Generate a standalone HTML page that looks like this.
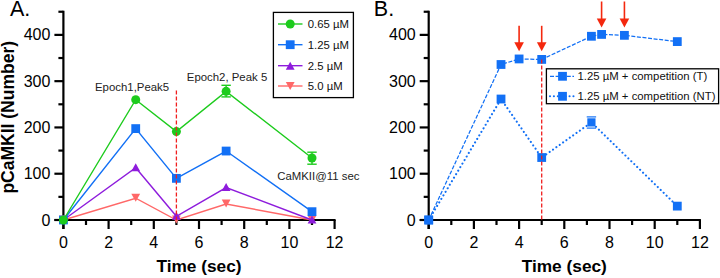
<!DOCTYPE html>
<html><head><meta charset="utf-8"><style>
html,body{margin:0;padding:0;background:#fff;}
body{width:720px;height:278px;overflow:hidden;}
svg{display:block;}
text{font-family:"Liberation Sans",sans-serif;}
.tk{font-size:16px;fill:#000;}
.tt{font-size:17.3px;font-weight:bold;fill:#000;}
.lg{font-size:11.35px;fill:#111;}
.an{font-size:11.4px;fill:#222;}
.pl{font-size:21.5px;fill:#000;}
</style></head><body>
<svg width="720" height="278" viewBox="0 0 720 278">
<rect width="720" height="278" fill="#fff"/>
<line x1="63.40" y1="10.74" x2="63.40" y2="229.00" stroke="#000" stroke-width="2.2"/>
<line x1="54.40" y1="220.00" x2="335.60" y2="220.00" stroke="#000" stroke-width="2.2"/>
<line x1="54.40" y1="220.00" x2="63.40" y2="220.00" stroke="#000" stroke-width="2.2"/>
<text x="50.40" y="225.60" text-anchor="end" class="tk">0</text>
<line x1="58.40" y1="196.86" x2="63.40" y2="196.86" stroke="#000" stroke-width="2.2"/>
<line x1="54.40" y1="173.72" x2="63.40" y2="173.72" stroke="#000" stroke-width="2.2"/>
<text x="50.40" y="179.32" text-anchor="end" class="tk">100</text>
<line x1="58.40" y1="150.58" x2="63.40" y2="150.58" stroke="#000" stroke-width="2.2"/>
<line x1="54.40" y1="127.44" x2="63.40" y2="127.44" stroke="#000" stroke-width="2.2"/>
<text x="50.40" y="133.04" text-anchor="end" class="tk">200</text>
<line x1="58.40" y1="104.30" x2="63.40" y2="104.30" stroke="#000" stroke-width="2.2"/>
<line x1="54.40" y1="81.16" x2="63.40" y2="81.16" stroke="#000" stroke-width="2.2"/>
<text x="50.40" y="86.76" text-anchor="end" class="tk">300</text>
<line x1="58.40" y1="58.02" x2="63.40" y2="58.02" stroke="#000" stroke-width="2.2"/>
<line x1="54.40" y1="34.88" x2="63.40" y2="34.88" stroke="#000" stroke-width="2.2"/>
<text x="50.40" y="40.48" text-anchor="end" class="tk">400</text>
<line x1="58.40" y1="11.74" x2="63.40" y2="11.74" stroke="#000" stroke-width="2.2"/>
<line x1="63.40" y1="220.00" x2="63.40" y2="229.00" stroke="#000" stroke-width="2.2"/>
<text x="63.40" y="247.70" text-anchor="middle" class="tk">0</text>
<line x1="86.00" y1="220.00" x2="86.00" y2="225.00" stroke="#000" stroke-width="2.2"/>
<line x1="108.60" y1="220.00" x2="108.60" y2="229.00" stroke="#000" stroke-width="2.2"/>
<text x="108.60" y="247.70" text-anchor="middle" class="tk">2</text>
<line x1="131.20" y1="220.00" x2="131.20" y2="225.00" stroke="#000" stroke-width="2.2"/>
<line x1="153.80" y1="220.00" x2="153.80" y2="229.00" stroke="#000" stroke-width="2.2"/>
<text x="153.80" y="247.70" text-anchor="middle" class="tk">4</text>
<line x1="176.40" y1="220.00" x2="176.40" y2="225.00" stroke="#000" stroke-width="2.2"/>
<line x1="199.00" y1="220.00" x2="199.00" y2="229.00" stroke="#000" stroke-width="2.2"/>
<text x="199.00" y="247.70" text-anchor="middle" class="tk">6</text>
<line x1="221.60" y1="220.00" x2="221.60" y2="225.00" stroke="#000" stroke-width="2.2"/>
<line x1="244.20" y1="220.00" x2="244.20" y2="229.00" stroke="#000" stroke-width="2.2"/>
<text x="244.20" y="247.70" text-anchor="middle" class="tk">8</text>
<line x1="266.80" y1="220.00" x2="266.80" y2="225.00" stroke="#000" stroke-width="2.2"/>
<line x1="289.40" y1="220.00" x2="289.40" y2="229.00" stroke="#000" stroke-width="2.2"/>
<text x="289.40" y="247.70" text-anchor="middle" class="tk">10</text>
<line x1="312.00" y1="220.00" x2="312.00" y2="225.00" stroke="#000" stroke-width="2.2"/>
<line x1="334.60" y1="220.00" x2="334.60" y2="229.00" stroke="#000" stroke-width="2.2"/>
<text x="334.60" y="247.70" text-anchor="middle" class="tk">12</text>
<text x="199.00" y="271.5" text-anchor="middle" class="tt">Time (sec)</text>
<text x="10" y="15.7" class="pl">A.</text>
<text transform="translate(14.2,117.3) rotate(-90)" text-anchor="middle" class="tt" style="font-size:17.5px">pCaMKII (Number)</text>
<polyline points="63.40,220.00 135.72,198.25 176.40,220.00 226.12,204.03 312.00,220.00" fill="none" stroke="#ff6868" stroke-width="1.4" stroke-linecap="butt"/>
<polygon points="59.00,215.50 67.80,215.50 63.40,223.50" fill="#ff6868"/>
<polygon points="131.32,193.75 140.12,193.75 135.72,201.75" fill="#ff6868"/>
<polygon points="172.00,215.50 180.80,215.50 176.40,223.50" fill="#ff6868"/>
<polygon points="221.72,199.53 230.52,199.53 226.12,207.53" fill="#ff6868"/>
<polygon points="307.60,215.50 316.40,215.50 312.00,223.50" fill="#ff6868"/>
<polyline points="63.40,220.00 135.72,167.70 176.40,216.30 226.12,187.60 312.00,220.00" fill="none" stroke="#8e1cdc" stroke-width="1.4" stroke-linecap="butt"/>
<polygon points="59.00,223.50 67.80,223.50 63.40,215.50" fill="#8e1cdc"/>
<polygon points="131.32,171.20 140.12,171.20 135.72,163.20" fill="#8e1cdc"/>
<polygon points="172.00,219.80 180.80,219.80 176.40,211.80" fill="#8e1cdc"/>
<polygon points="221.72,191.10 230.52,191.10 226.12,183.10" fill="#8e1cdc"/>
<polygon points="307.60,223.50 316.40,223.50 312.00,215.50" fill="#8e1cdc"/>
<polyline points="63.40,220.00 135.72,128.60 176.40,178.35 226.12,151.04 312.00,211.67" fill="none" stroke="#1270f5" stroke-width="1.4" stroke-linecap="butt"/>
<rect x="59.00" y="215.60" width="8.80" height="8.80" fill="#1270f5"/>
<rect x="131.32" y="124.20" width="8.80" height="8.80" fill="#1270f5"/>
<rect x="172.00" y="173.95" width="8.80" height="8.80" fill="#1270f5"/>
<rect x="221.72" y="146.64" width="8.80" height="8.80" fill="#1270f5"/>
<rect x="307.60" y="207.27" width="8.80" height="8.80" fill="#1270f5"/>
<polyline points="63.40,220.00 135.72,99.67 176.40,131.61 226.12,91.34 312.00,157.98" fill="none" stroke="#1dcb1d" stroke-width="1.4" stroke-linecap="butt"/>
<line x1="226.12" y1="85.30" x2="226.12" y2="96.90" stroke="#1dcb1d" stroke-width="1.4"/><line x1="221.42" y1="85.30" x2="230.82" y2="85.30" stroke="#1dcb1d" stroke-width="1.4"/><line x1="221.42" y1="96.90" x2="230.82" y2="96.90" stroke="#1dcb1d" stroke-width="1.4"/>
<line x1="312.00" y1="152.20" x2="312.00" y2="164.20" stroke="#1dcb1d" stroke-width="1.4"/><line x1="307.30" y1="152.20" x2="316.70" y2="152.20" stroke="#1dcb1d" stroke-width="1.4"/><line x1="307.30" y1="164.20" x2="316.70" y2="164.20" stroke="#1dcb1d" stroke-width="1.4"/>
<circle cx="63.40" cy="220.00" r="4.5" fill="#1dcb1d"/>
<circle cx="135.72" cy="99.67" r="4.5" fill="#1dcb1d"/>
<circle cx="176.40" cy="131.61" r="4.5" fill="#1dcb1d"/>
<circle cx="226.12" cy="91.34" r="4.5" fill="#1dcb1d"/>
<circle cx="312.00" cy="157.98" r="4.5" fill="#1dcb1d"/>
<line x1="176.40" y1="90.5" x2="176.40" y2="220.00" stroke="#f01e1e" stroke-width="1.3" stroke-dasharray="4 2"/>
<text x="95" y="90.9" class="an">Epoch1,Peak5</text>
<text x="186.8" y="80.9" class="an">Epoch2, Peak 5</text>
<text x="277.2" y="179.9" class="an">CaMKII@11 sec</text>
<rect x="273.4" y="12.4" width="80" height="85.2" fill="#fff" stroke="#000" stroke-width="1.3"/>
<line x1="278" y1="24" x2="302.5" y2="24" stroke="#1dcb1d" stroke-width="1.4"/>
<circle cx="290.20" cy="24.00" r="4.5" fill="#1dcb1d"/>
<text x="307.8" y="28.00" class="lg">0.65 µM</text>
<line x1="278" y1="44.7" x2="302.5" y2="44.7" stroke="#1270f5" stroke-width="1.4"/>
<rect x="285.80" y="40.30" width="8.80" height="8.80" fill="#1270f5"/>
<text x="307.8" y="48.70" class="lg">1.25 µM</text>
<line x1="278" y1="65.7" x2="302.5" y2="65.7" stroke="#8e1cdc" stroke-width="1.4"/>
<polygon points="285.80,69.70 294.60,69.70 290.20,61.70" fill="#8e1cdc"/>
<text x="307.8" y="69.70" class="lg">2.5 µM</text>
<line x1="278" y1="86" x2="302.5" y2="86" stroke="#ff6868" stroke-width="1.4"/>
<polygon points="285.80,82.00 294.60,82.00 290.20,90.00" fill="#ff6868"/>
<text x="307.8" y="90.00" class="lg">5.0 µM</text>
<line x1="428.70" y1="10.74" x2="428.70" y2="229.00" stroke="#000" stroke-width="2.2"/>
<line x1="419.70" y1="220.00" x2="700.90" y2="220.00" stroke="#000" stroke-width="2.2"/>
<line x1="419.70" y1="220.00" x2="428.70" y2="220.00" stroke="#000" stroke-width="2.2"/>
<text x="415.70" y="225.60" text-anchor="end" class="tk">0</text>
<line x1="423.70" y1="196.86" x2="428.70" y2="196.86" stroke="#000" stroke-width="2.2"/>
<line x1="419.70" y1="173.72" x2="428.70" y2="173.72" stroke="#000" stroke-width="2.2"/>
<text x="415.70" y="179.32" text-anchor="end" class="tk">100</text>
<line x1="423.70" y1="150.58" x2="428.70" y2="150.58" stroke="#000" stroke-width="2.2"/>
<line x1="419.70" y1="127.44" x2="428.70" y2="127.44" stroke="#000" stroke-width="2.2"/>
<text x="415.70" y="133.04" text-anchor="end" class="tk">200</text>
<line x1="423.70" y1="104.30" x2="428.70" y2="104.30" stroke="#000" stroke-width="2.2"/>
<line x1="419.70" y1="81.16" x2="428.70" y2="81.16" stroke="#000" stroke-width="2.2"/>
<text x="415.70" y="86.76" text-anchor="end" class="tk">300</text>
<line x1="423.70" y1="58.02" x2="428.70" y2="58.02" stroke="#000" stroke-width="2.2"/>
<line x1="419.70" y1="34.88" x2="428.70" y2="34.88" stroke="#000" stroke-width="2.2"/>
<text x="415.70" y="40.48" text-anchor="end" class="tk">400</text>
<line x1="423.70" y1="11.74" x2="428.70" y2="11.74" stroke="#000" stroke-width="2.2"/>
<line x1="428.70" y1="220.00" x2="428.70" y2="229.00" stroke="#000" stroke-width="2.2"/>
<text x="428.70" y="247.70" text-anchor="middle" class="tk">0</text>
<line x1="451.30" y1="220.00" x2="451.30" y2="225.00" stroke="#000" stroke-width="2.2"/>
<line x1="473.90" y1="220.00" x2="473.90" y2="229.00" stroke="#000" stroke-width="2.2"/>
<text x="473.90" y="247.70" text-anchor="middle" class="tk">2</text>
<line x1="496.50" y1="220.00" x2="496.50" y2="225.00" stroke="#000" stroke-width="2.2"/>
<line x1="519.10" y1="220.00" x2="519.10" y2="229.00" stroke="#000" stroke-width="2.2"/>
<text x="519.10" y="247.70" text-anchor="middle" class="tk">4</text>
<line x1="541.70" y1="220.00" x2="541.70" y2="225.00" stroke="#000" stroke-width="2.2"/>
<line x1="564.30" y1="220.00" x2="564.30" y2="229.00" stroke="#000" stroke-width="2.2"/>
<text x="564.30" y="247.70" text-anchor="middle" class="tk">6</text>
<line x1="586.90" y1="220.00" x2="586.90" y2="225.00" stroke="#000" stroke-width="2.2"/>
<line x1="609.50" y1="220.00" x2="609.50" y2="229.00" stroke="#000" stroke-width="2.2"/>
<text x="609.50" y="247.70" text-anchor="middle" class="tk">8</text>
<line x1="632.10" y1="220.00" x2="632.10" y2="225.00" stroke="#000" stroke-width="2.2"/>
<line x1="654.70" y1="220.00" x2="654.70" y2="229.00" stroke="#000" stroke-width="2.2"/>
<text x="654.70" y="247.70" text-anchor="middle" class="tk">10</text>
<line x1="677.30" y1="220.00" x2="677.30" y2="225.00" stroke="#000" stroke-width="2.2"/>
<line x1="699.90" y1="220.00" x2="699.90" y2="229.00" stroke="#000" stroke-width="2.2"/>
<text x="699.90" y="247.70" text-anchor="middle" class="tk">12</text>
<text x="564.30" y="271.5" text-anchor="middle" class="tt">Time (sec)</text>
<text x="373.8" y="16.3" class="pl">B.</text>
<polyline points="428.70,220.00 501.02,99.02 541.70,157.52 591.42,122.35 677.30,206.12" fill="none" stroke="#1270f5" stroke-width="2.1" stroke-dasharray="0.01 4.1" stroke-linecap="round"/>
<line x1="586.72" y1="116.90" x2="596.12" y2="116.90" stroke="#1270f5" stroke-width="1.2"/><line x1="586.72" y1="128.10" x2="596.12" y2="128.10" stroke="#1270f5" stroke-width="1.2"/>
<rect x="424.30" y="215.60" width="8.80" height="8.80" fill="#1270f5"/>
<rect x="496.62" y="94.62" width="8.80" height="8.80" fill="#1270f5"/>
<rect x="537.30" y="153.12" width="8.80" height="8.80" fill="#1270f5"/>
<rect x="587.32" y="118.30" width="8.20" height="8.20" fill="#1270f5"/>
<rect x="672.90" y="201.72" width="8.80" height="8.80" fill="#1270f5"/>
<polyline points="428.70,220.00 501.02,64.50 519.10,58.95 541.70,59.41 591.42,36.27 601.59,34.42 624.42,35.34 677.30,41.59" fill="none" stroke="#1270f5" stroke-width="1.25" stroke-dasharray="4 1.6" stroke-linecap="butt"/>
<rect x="424.30" y="215.60" width="8.80" height="8.80" fill="#1270f5"/>
<rect x="496.62" y="60.10" width="8.80" height="8.80" fill="#1270f5"/>
<rect x="514.70" y="54.55" width="8.80" height="8.80" fill="#1270f5"/>
<rect x="537.30" y="55.01" width="8.80" height="8.80" fill="#1270f5"/>
<rect x="587.02" y="31.87" width="8.80" height="8.80" fill="#1270f5"/>
<rect x="597.19" y="30.02" width="8.80" height="8.80" fill="#1270f5"/>
<rect x="620.02" y="30.94" width="8.80" height="8.80" fill="#1270f5"/>
<rect x="672.90" y="37.19" width="8.80" height="8.80" fill="#1270f5"/>
<line x1="541.70" y1="59.41" x2="541.70" y2="220.00" stroke="#f01e1e" stroke-width="1.3" stroke-dasharray="4 2"/>
<line x1="519.10" y1="25.80" x2="519.10" y2="44.60" stroke="#f4280e" stroke-width="1.6"/><polygon points="514.30,42.20 523.90,42.20 519.10,51.20" fill="#f4280e"/>
<line x1="541.70" y1="25.80" x2="541.70" y2="44.60" stroke="#f4280e" stroke-width="1.6"/><polygon points="536.90,42.20 546.50,42.20 541.70,51.20" fill="#f4280e"/>
<line x1="601.59" y1="1.50" x2="601.59" y2="21.00" stroke="#f4280e" stroke-width="1.6"/><polygon points="596.79,18.60 606.39,18.60 601.59,27.60" fill="#f4280e"/>
<line x1="624.42" y1="1.50" x2="624.42" y2="21.00" stroke="#f4280e" stroke-width="1.6"/><polygon points="619.62,18.60 629.22,18.60 624.42,27.60" fill="#f4280e"/>
<rect x="546.4" y="68.8" width="172.2" height="34.9" fill="#fff" stroke="#000" stroke-width="1.3"/>
<line x1="550" y1="76.3" x2="574" y2="76.3" stroke="#1270f5" stroke-width="1.25" stroke-dasharray="4 1.6" stroke-linecap="butt"/>
<rect x="558.10" y="71.90" width="8.80" height="8.80" fill="#1270f5"/>
<text x="577.5" y="80.30" class="lg">1.25 µM + competition (T)</text>
<line x1="550" y1="96.3" x2="574" y2="96.3" stroke="#1270f5" stroke-width="2.1" stroke-dasharray="0.01 3.9" stroke-linecap="round"/>
<rect x="558.10" y="91.90" width="8.80" height="8.80" fill="#1270f5"/>
<text x="577.5" y="100.30" class="lg">1.25 µM + competition (NT)</text>
</svg>
</body></html>
